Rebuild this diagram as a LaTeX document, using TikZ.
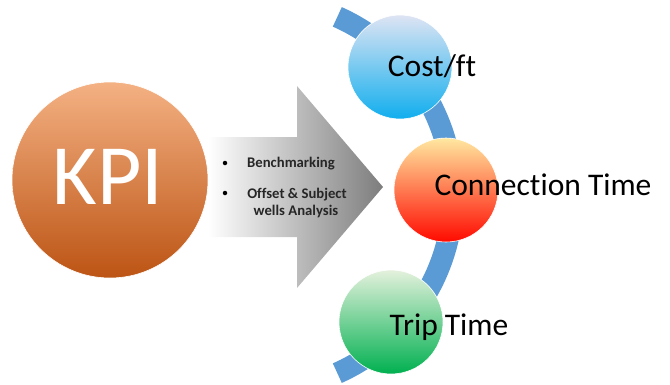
\documentclass[tikz,border=0pt]{standalone}
\usepackage{fontspec}
\setmainfont{Carlito}[Ligatures=NoCommon]
\definecolor{arcblue}{RGB}{91,155,213}
\tikzset{
        ball/.style={circle, draw=white, line width=0.6pt, inner sep=0pt, minimum size=104pt},
        kpiball/.style={ball, minimum size=196pt, top color={rgb,255:red,244;green,177;blue,131}, middle color={rgb,255:red,236;green,125;blue,49}, bottom color={rgb,255:red,188;green,84;blue,20}},
        costball/.style={ball, top color={rgb,255:red,222;green,228;blue,243}, middle color={rgb,255:red,176;green,196;blue,230}, bottom color={rgb,255:red,16;green,174;blue,238}},
        connball/.style={ball, top color={rgb,255:red,255;green,232;blue,160}, middle color={rgb,255:red,255;green,190;blue,0}, bottom color={rgb,255:red,255;green,10;blue,0}},
        tripball/.style={ball, top color={rgb,255:red,228;green,241;blue,220}, middle color={rgb,255:red,166;green,212;blue,146}, bottom color={rgb,255:red,0;green,176;blue,80}},
        arcline/.style={draw=arcblue, line width=21.5pt},
        bigtext/.style={anchor=base, inner sep=0pt, font=\fontsize{31.5}{36}\selectfont},
        item/.style={anchor=base, inner sep=0pt, font=\fontsize{14.7}{17}\selectfont\bfseries, text=black!85},
        dot/.style={circle, fill=black, inner sep=0pt, minimum size=4.5pt}
          }
\begin{document}
\begin{tikzpicture}[x=1pt, y=-1pt]
        \useasboundingbox (0,0) rectangle (670,384);
        \shade[left color=white, right color={rgb,255:red,125;green,125;blue,125}]
          (208,137) -- (297,137) -- (297,86) -- (383,187) -- (297,288) -- (297,237) -- (208,237) -- cycle;
        \node[kpiball] (kpi) at (110,180) {};
        \node[bigtext, text=white, font=\fontsize{86}{90}\selectfont] (kpitext) at (108,204) {KPI};
        \node[dot] (d1) at (225,163) {};
        \node[dot] (d2) at (225,193) {};
        \node[item, anchor=base west] (bench) at (247,167) {Benchmarking};
        \node[item] (offset) at (297,198) {Offset \& Subject};
        \node[item] (wells) at (296,215) {wells Analysis};
        \draw[arcline] (258,195) ++(-66:195) coordinate (arctop)
          arc[start angle=-66, end angle=66, radius=195] coordinate (arcbot);
        \node[costball] (cost) at (400,67) {};
        \node[connball] (conn) at (446,190) {};
        \node[tripball] (trip) at (391,322) {};
        \node[bigtext] (costtext) at (432,76) {Cost/ft};
        \node[bigtext] (conntext) at (543,195) {Connection Time};
        \node[bigtext] (triptext) at (449,335) {Trip Time};
\end{tikzpicture}
\end{document}
